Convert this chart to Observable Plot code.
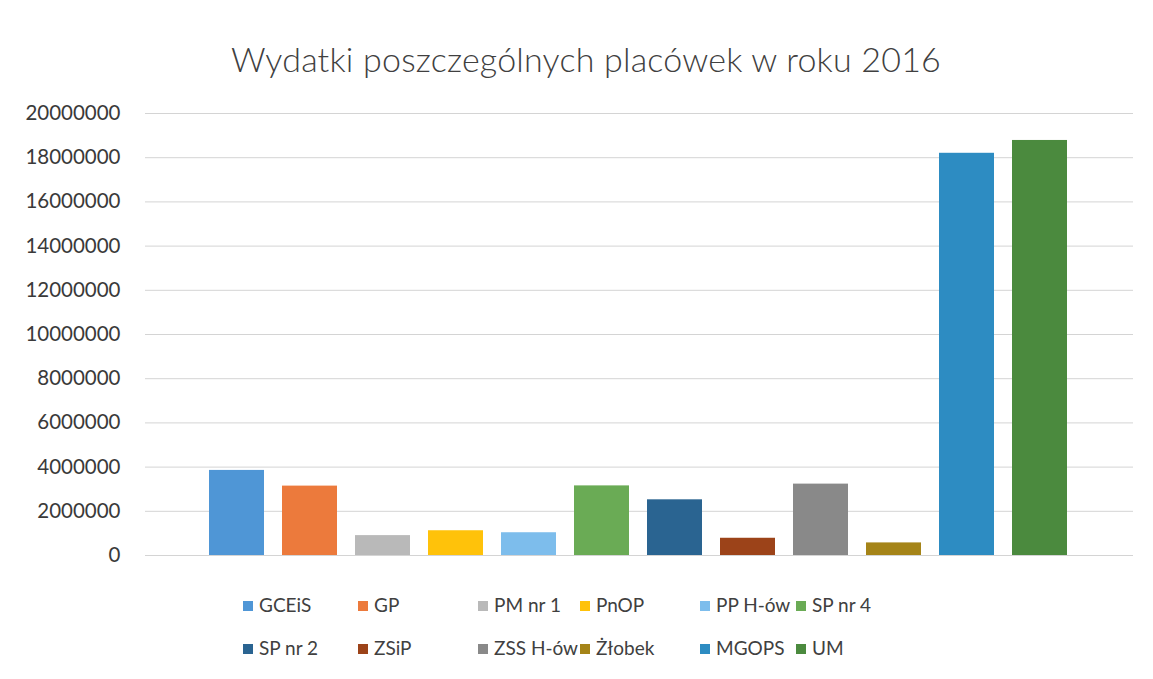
<!DOCTYPE html>
<html>
<head>
<meta charset="utf-8">
<script src="https://cdn.jsdelivr.net/npm/d3@7"></script>
<script src="https://cdn.jsdelivr.net/npm/@observablehq/plot@0.6"></script>
<style>
  html, body { margin: 0; padding: 0; background: #fff; }
  #wrap { position: relative; width: 1153px; height: 679px; font-family: Lato, "Open Sans", sans-serif; color: #404040; }
  #title { position: absolute; left: 0; width: 1172px; top: 38px; text-align: center; font-size: 34px; font-weight: 300; color: #404040; letter-spacing: 0.2px; }
  #chart { position: absolute; left: 0; top: 95px; }
  #legend { position: absolute; left: 0; top: 590px; width: 1153px; }
  .item { position: absolute; font-size: 19px; color: #404040; white-space: nowrap; line-height: 24px; }
  .sw { display: inline-block; width: 10px; height: 10px; margin-right: 6px; vertical-align: 1px; }
</style>
</head>
<body>
<div id="wrap">
  <div id="title">Wydatki poszczególnych placówek w roku 2016</div>
  <div id="chart"></div>
  <div id="legend"></div>
</div>
<script>
const categories = ["GCEiS", "GP", "PM nr 1", "PnOP", "PP H-ów", "SP nr 4", "SP nr 2", "ZSiP", "ZSS H-ów", "Żłobek", "MGOPS", "UM"];
const values = [3850000, 3140000, 900000, 1120000, 1030000, 3150000, 2520000, 780000, 3230000, 570000, 18200000, 18780000];
const colors = ["#4f96d6", "#ec7a3c", "#b9b9b9", "#ffc20a", "#7dbdec", "#6aab55", "#2a6491", "#9c4319", "#898989", "#a58418", "#2d8cc2", "#4b8a3e"];
const yTicks = [0, 2000000, 4000000, 6000000, 8000000, 10000000, 12000000, 14000000, 16000000, 18000000, 20000000];

const data = categories.map((c, i) => ({cat: c, value: values[i]}));

const chart = Plot.plot({
  width: 1153,
  height: 480,
  marginLeft: 145,
  marginRight: 20,
  marginTop: 18,
  marginBottom: 20,
  style: {fontFamily: "Lato, 'Open Sans', sans-serif", fontSize: "20.5px", color: "#3a3a3a", background: "#fff"},
  x: {domain: categories, range: [207, 1068], paddingInner: 0.25, paddingOuter: 0, axis: null},
  y: {domain: [0, 20000000], ticks: yTicks, tickFormat: d3.format("d"), tickSize: 0, tickPadding: 25, label: null},
  color: {domain: categories, range: colors},
  marks: [
    Plot.ruleY(yTicks, {stroke: "#d4d4d4", strokeWidth: 1}),
    Plot.barY(data, {x: "cat", y: "value", fill: "cat"})
  ]
});
document.getElementById("chart").appendChild(chart);

const legendX = [243, 358, 478, 580, 700, 796];
const legendY = [3, 46];
const leg = document.getElementById("legend");
categories.forEach((c, i) => {
  const d = document.createElement("div");
  d.className = "item";
  d.style.left = legendX[i % 6] + "px";
  d.style.top = legendY[Math.floor(i / 6)] + "px";
  const s = document.createElement("span");
  s.className = "sw";
  s.style.background = colors[i];
  d.appendChild(s);
  d.appendChild(document.createTextNode(c));
  leg.appendChild(d);
});
</script>
</body>
</html>
